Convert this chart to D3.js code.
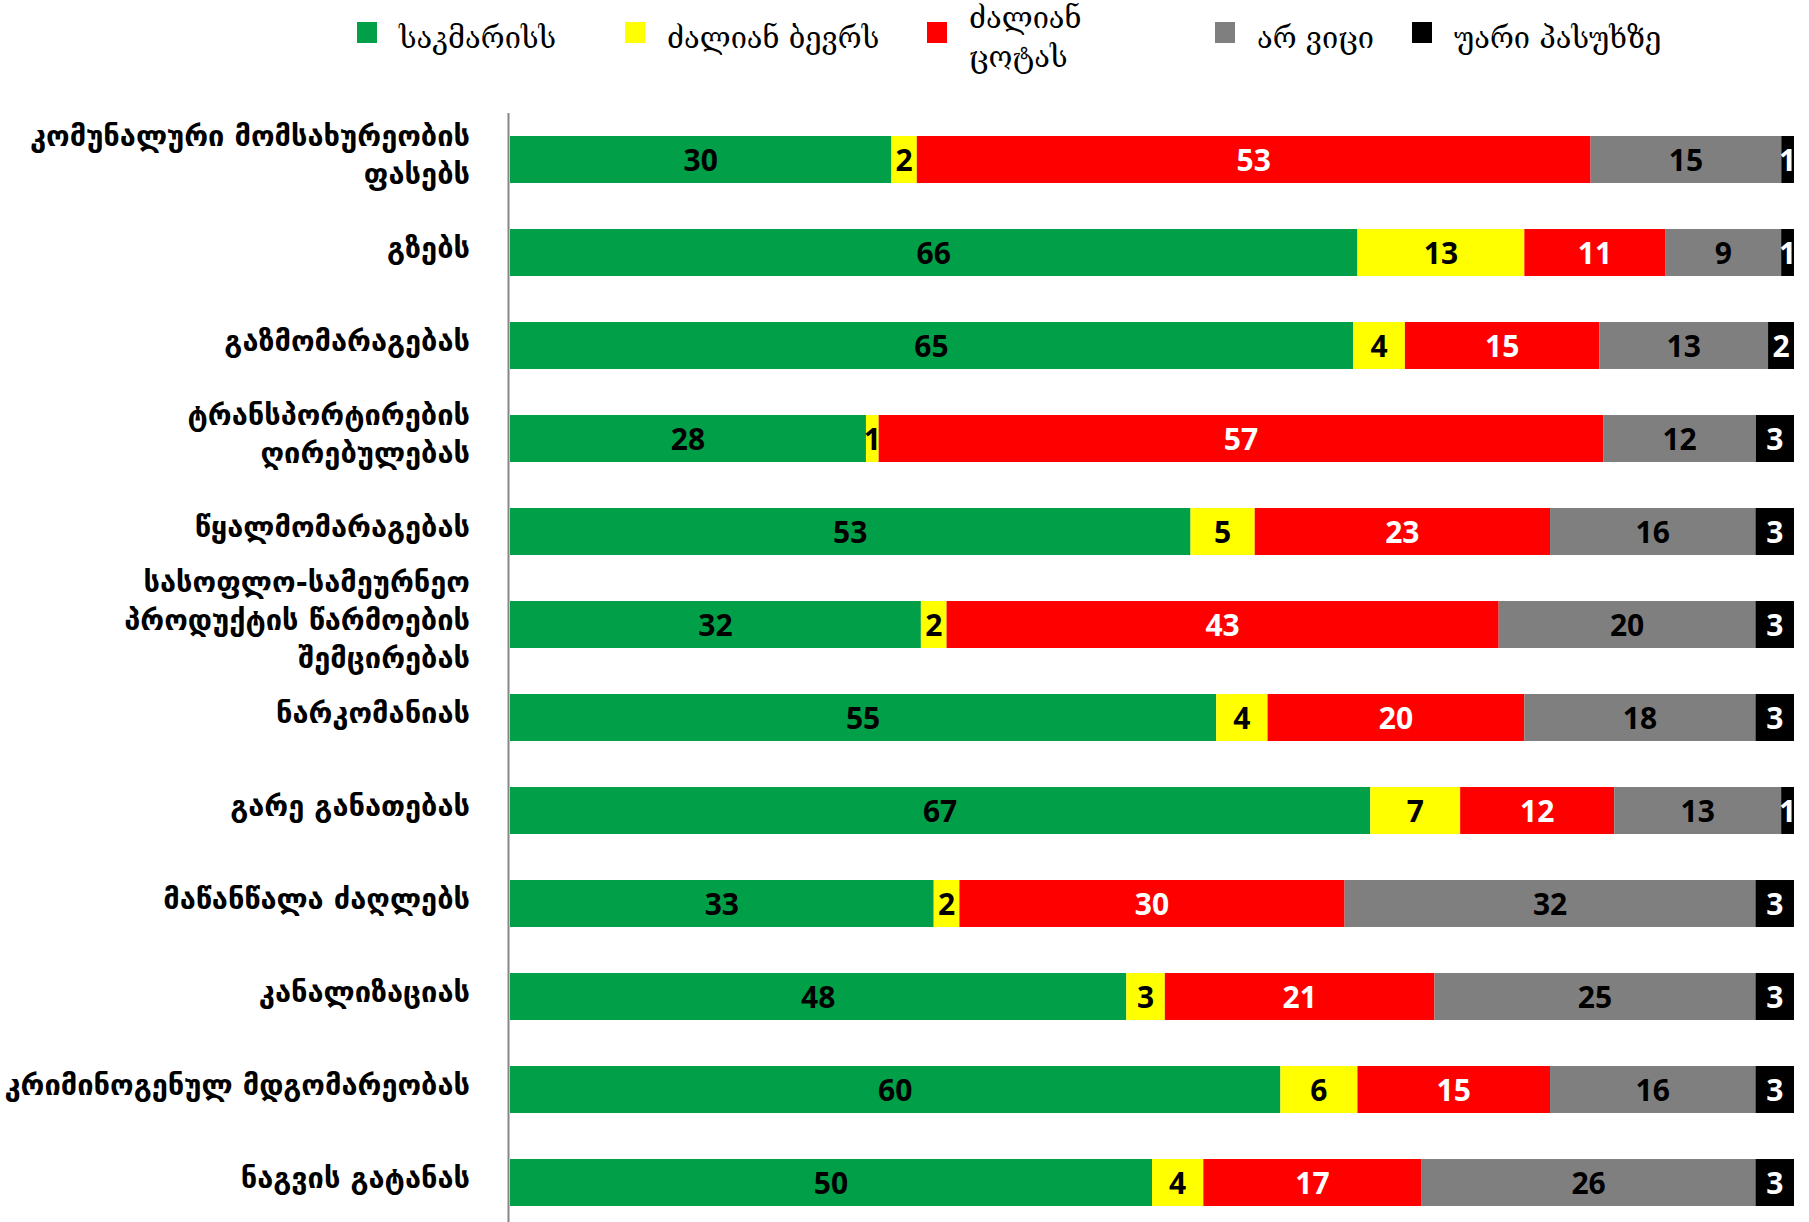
<!DOCTYPE html>
<html>
<head>
<meta charset="utf-8">
<script src="https://cdn.jsdelivr.net/npm/d3@7"></script>
<style>
  body { margin: 0; background: #fff; }
</style>
</head>
<body>
<script>
var width = 1809,
    height = 1222;

// categories (line breaks as in the original chart)
var categories = [
    "კომუნალური მომსახურეობის\nფასებს",
    "გზებს",
    "გაზმომარაგებას",
    "ტრანსპორტირების\nღირებულებას",
    "წყალმომარაგებას",
    "სასოფლო-სამეურნეო\nპროდუქტის წარმოების\nშემცირებას",
    "ნარკომანიას",
    "გარე განათებას",
    "მაწანწალა ძაღლებს",
    "კანალიზაციას",
    "კრიმინოგენულ მდგომარეობას",
    "ნაგვის გატანას"
];
var seriesNames = ["საკმარისს", "ძალიან ბევრს", "ძალიან\nცოტას", "არ ვიცი", "უარი პასუხზე"];
var enough    = [30, 66, 65, 28, 53, 32, 55, 67, 33, 48, 60, 50];
var tooMuch   = [2, 13, 4, 1, 5, 2, 4, 7, 2, 3, 6, 4];
var tooLittle = [53, 11, 15, 57, 23, 43, 20, 12, 30, 21, 15, 17];
var dontKnow  = [15, 9, 13, 12, 16, 20, 18, 13, 32, 25, 16, 26];
var refused   = [1, 1, 2, 3, 3, 3, 3, 1, 3, 3, 3, 3];

var seriesValues = [enough, tooMuch, tooLittle, dontKnow, refused];
var seriesColors = ["#009F48", "#FFFF00", "#FF0000", "#7F7F7F", "#000000"];
var labelColors = ["#000", "#000", "#fff", "#000", "#fff"];

var keys = d3.range(seriesNames.length);
var rows = categories.map(function (c, i) {
    var r = {name: c};
    keys.forEach(function (k) { r[k] = seriesValues[k][i]; });
    return r;
});

var stack = d3.stack()
    .keys(keys)
    .offset(d3.stackOffsetExpand);
var layers = stack(rows);

var plotLeft = 510, plotRight = 1794, plotTop = 113;
var step = 93;

var x = d3.scaleLinear()
    .domain([0, 1])
    .range([plotLeft, plotRight]);
var y = d3.scaleBand()
    .domain(categories)
    .range([plotTop, plotTop + step * categories.length])
    .paddingInner(0.495)
    .paddingOuter(0.2475);

var svg = d3.select("body").append("svg")
    .attr("width", width)
    .attr("height", height);

// bars
var layer = svg.append("g").selectAll("g")
    .data(layers)
    .join("g")
    .attr("fill", function (d) { return seriesColors[d.key]; });

layer.selectAll("rect")
    .data(function (d) { return d; })
    .join("rect")
    .attr("x", function (d) { return x(d[0]); })
    .attr("y", function (d) { return y(d.data.name); })
    .attr("width", function (d) { return x(d[1]) - x(d[0]); })
    .attr("height", y.bandwidth());

// value labels
layers.forEach(function (l) {
    svg.append("g").selectAll("text")
        .data(l)
        .join("text")
        .attr("x", function (d) { return (x(d[0]) + x(d[1])) / 2; })
        .attr("y", function (d) { return y(d.data.name) + y.bandwidth() / 2; })
        .attr("text-anchor", "middle")
        .attr("dominant-baseline", "central")
        .attr("fill", labelColors[l.key])
        .style("font-family", '"Open Sans", sans-serif')
        .style("font-weight", "700")
        .style("font-size", "30px")
        .text(function (d) { return d.data[l.key]; });
});

// category axis line
svg.append("line")
    .attr("x1", plotLeft - 1.5)
    .attr("x2", plotLeft - 1.5)
    .attr("y1", plotTop)
    .attr("y2", height)
    .attr("stroke", "#868686")
    .attr("stroke-width", 2);

// category labels
var lineH = 38;
var catLabels = svg.append("g").selectAll("text")
    .data(categories)
    .join("text")
    .attr("text-anchor", "end")
    .attr("x", 470)
    .attr("y", function (d) {
        var n = d.split("\n").length;
        return y(d) + y.bandwidth() / 2 - 5 - (n - 1) * lineH / 2;
    })
    .style("font-family", '"DejaVu Sans", sans-serif')
    .style("font-weight", "bold")
    .style("font-size", "29px")
    .attr("fill", "#000");
catLabels.selectAll("tspan")
    .data(function (d) { return d.split("\n"); })
    .join("tspan")
    .attr("x", 470)
    .attr("dy", function (d, i) { return i === 0 ? "0.35em" : lineH; })
    .text(function (d) { return d; });

// legend
var legendX = [357, 625, 927, 1215, 1412];
var legend = svg.append("g").selectAll("g")
    .data(keys)
    .join("g")
    .attr("transform", function (k) { return "translate(" + legendX[k] + ",22)"; });
legend.append("rect")
    .attr("width", 20)
    .attr("height", 21)
    .attr("fill", function (k) { return seriesColors[k]; });
legend.append("text")
    .attr("x", 42)
    .attr("y", function (k) {
        return seriesNames[k].indexOf("\n") >= 0 ? 6 : 26;
    })
    .style("font-family", '"DejaVu Serif", serif')
    .style("font-size", "29px")
    .selectAll("tspan")
    .data(function (k) { return seriesNames[k].split("\n"); })
    .join("tspan")
    .attr("x", 42)
    .attr("dy", function (d, i) { return i === 0 ? 0 : 39; })
    .text(function (d) { return d; });
</script>
</body>
</html>
